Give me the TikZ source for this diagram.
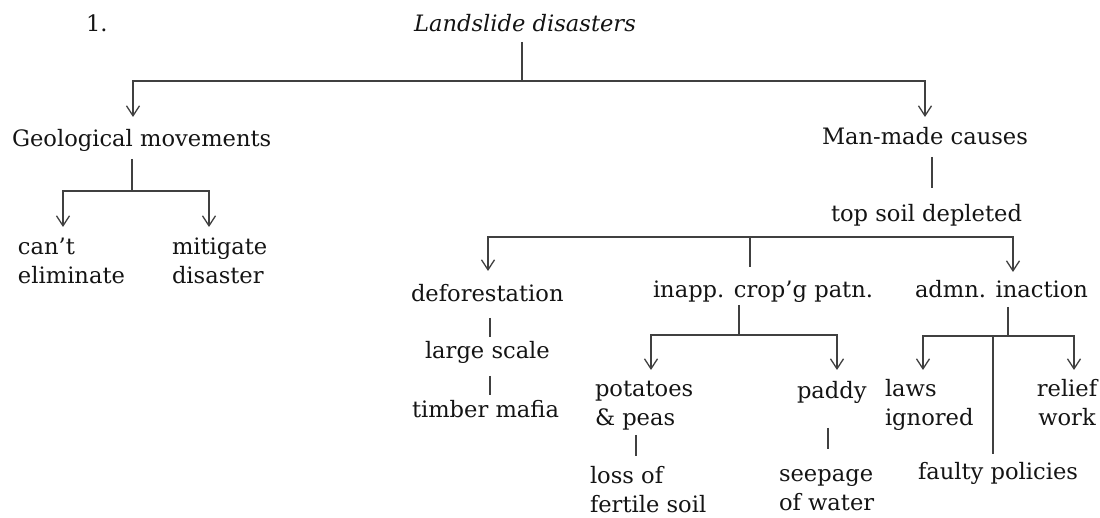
\documentclass[tikz,border=0pt]{standalone}
\usepackage{fontspec}
\setmainfont{DejaVu Serif}
\usetikzlibrary{arrows.meta}
\newcommand\mylines[2][l]{\begin{tabular}[t]{@{}#1@{}}#2\end{tabular}}
\newcommand\myfont{\fontsize{11.3}{14.2}\selectfont}
\begin{document}
\begin{tikzpicture}[x=0.5pt,y=-0.5pt,
  txt/.style={inner sep=0pt, outer sep=0pt, anchor=base west, text=black!92, font=\myfont},
  ln/.style={draw=black!75, line width=0.6pt},
  arr/.style={ln, -{Straight Barb[length=5pt,width=6.5pt,line width=0.65pt]}}]
\useasboundingbox (0,0) rectangle (1100,518);

% nodes
\node[txt] (num) at (86,32) {1.};
\node[txt,anchor=base,font=\myfont\itshape] (root) at (525,32) {Landslide disasters};
\node[txt] (geo) at (12,147) {Geological movements};
\node[txt] (cant) at (18,255) {\mylines{can’t\\eliminate}};
\node[txt] (miti) at (172,255) {\mylines{mitigate\\disaster}};
\node[txt] (man) at (822,145) {Man-made causes};
\node[txt] (tsd) at (831,222) {top soil depleted};
\node[txt] (defo) at (411,302) {deforestation};
\node[txt] (large) at (425,359) {large scale};
\node[txt] (timber) at (412,418) {timber mafia};
\node[txt] (inapp) at (653,298) {inapp. crop’g patn.};
\node[txt] (admn) at (915,298) {admn. inaction};
\node[txt] (pot) at (595,397) {\mylines{potatoes\\\& peas}};
\node[txt] (paddy) at (797,399) {paddy};
\node[txt] (laws) at (885,397) {\mylines{laws\\ignored}};
\node[txt,anchor=base] (relief) at (1067,397) {\mylines[c]{relief\\work}};
\node[txt] (loss) at (590,484) {\mylines{loss of\\fertile soil}};
\node[txt] (seep) at (779,482) {\mylines{seepage\\of water}};
\node[txt] (faulty) at (918,480) {faulty policies};

% junctions and connector ends
\coordinate (root-out) at (522,42);
\coordinate (j0) at (522,81);
\coordinate (geo-in) at (133,117);
\coordinate (man-in) at (925,117);
\coordinate (geo-out) at (132,159);
\coordinate (j1) at (132,191);
\coordinate (cant-in) at (63,227);
\coordinate (miti-in) at (209,227);
\coordinate (man-out) at (932,157);
\coordinate (tsd-in) at (932,188);
\coordinate (j2) at (750,237);
\coordinate (defo-in) at (488,271);
\coordinate (inapp-in) at (750,267);
\coordinate (admn-in) at (1013,272);
\coordinate (defo-out) at (490,318);
\coordinate (large-in) at (490,337);
\coordinate (large-out) at (490,376);
\coordinate (timber-in) at (490,395);
\coordinate (inapp-out) at (739,305);
\coordinate (j3) at (739,335);
\coordinate (pot-in) at (651,370);
\coordinate (paddy-in) at (837,370);
\coordinate (admn-out) at (1008,307);
\coordinate (j4) at (1008,336);
\coordinate (laws-in) at (923,370);
\coordinate (relief-in) at (1074,370);
\coordinate (j5) at (993,336);
\coordinate (faulty-in) at (993,454);
\coordinate (pot-out) at (636,435);
\coordinate (loss-in) at (636,456);
\coordinate (paddy-out) at (828,428);
\coordinate (seep-in) at (828,449);

% connectors
\draw[ln] (root-out) -- (j0);
\draw[arr] (j0) -| (geo-in);
\draw[arr] (j0) -| (man-in);
\draw[ln] (geo-out) -- (j1);
\draw[arr] (j1) -| (cant-in);
\draw[arr] (j1) -| (miti-in);
\draw[ln] (man-out) -- (tsd-in);
\draw[arr] (j2) -| (defo-in);
\draw[arr] (j2) -| (admn-in);
\draw[ln] (j2) -- (inapp-in);
\draw[ln] (defo-out) -- (large-in);
\draw[ln] (large-out) -- (timber-in);
\draw[ln] (inapp-out) -- (j3);
\draw[arr] (j3) -| (pot-in);
\draw[arr] (j3) -| (paddy-in);
\draw[ln] (admn-out) -- (j4);
\draw[arr] (j4) -| (laws-in);
\draw[arr] (j4) -| (relief-in);
\draw[ln] (j5) -- (faulty-in);
\draw[ln] (pot-out) -- (loss-in);
\draw[ln] (paddy-out) -- (seep-in);
\end{tikzpicture}
\end{document}
